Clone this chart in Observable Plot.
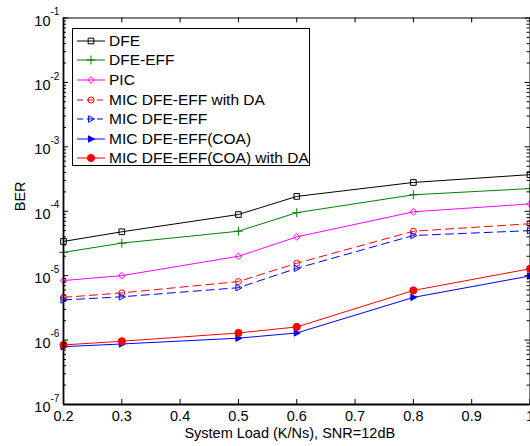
<!DOCTYPE html>
<html>
<head>
<meta charset="utf-8">
<script src="https://cdn.jsdelivr.net/npm/d3@7"></script>
<script src="https://cdn.jsdelivr.net/npm/@observablehq/plot@0.6"></script>
<style>
  body { margin: 0; background: #fff; font-family: "Liberation Sans", Arial, sans-serif; }
  #wrap { position: relative; width: 530px; height: 446px; overflow: hidden; }
  #legend { position: absolute; left: 72px; top: 28px; width: 238px; height: 138px;
            border: 1px solid #000; background: #fff; box-sizing: border-box; padding-top: 2px; }
  .row { display: flex; align-items: center; height: 19.6px; font-size: 15.5px; color: #000; white-space: nowrap; }
  .row svg { margin-left: 4px; margin-right: 4px; flex: none; }
</style>
</head>
<body>
<div id="wrap"><div id="chart"></div><div id="legend"></div></div>
<script>
// ---- data ----
const loads = [0.2, 0.3, 0.5, 0.6, 0.8, 1.0];
const dfe    = [3.4e-5, 4.8e-5, 8.9e-5, 1.7e-4, 2.8e-4, 3.7e-4];
const dfeEff = [2.3e-5, 3.2e-5, 4.9e-5, 9.5e-5, 1.8e-4, 2.25e-4];
const pic    = [8.4e-6, 1.0e-5, 2.0e-5, 4.0e-5, 9.8e-5, 1.3e-4];
const micDa  = [4.6e-6, 5.4e-6, 8.1e-6, 1.56e-5, 4.9e-5, 6.4e-5];
const mic    = [4.2e-6, 4.7e-6, 6.5e-6, 1.3e-5, 4.2e-5, 5.0e-5];
const coa    = [7.9e-7, 8.7e-7, 1.07e-6, 1.29e-6, 4.6e-6, 9.9e-6];
const coaDa  = [8.4e-7, 9.6e-7, 1.29e-6, 1.6e-6, 5.9e-6, 1.28e-5];

const seriesNames = ["DFE", "DFE-EFF", "PIC", "MIC DFE-EFF with DA", "MIC DFE-EFF",
                     "MIC DFE-EFF(COA)", "MIC DFE-EFF(COA) with DA"];
const xTicks = [0.2, 0.3, 0.4, 0.5, 0.6, 0.7, 0.8, 0.9, 1.0];
const yExps = [-7, -6, -5, -4, -3, -2, -1];

// ---- styles ----
const triRight = {
  draw(ctx, size) {
    const r = Math.sqrt(size / Math.PI);
    ctx.moveTo(r * 1.1, 0);
    ctx.lineTo(-r * 0.8, -r * 1.0);
    ctx.lineTo(-r * 0.8, r * 1.0);
    ctx.closePath();
  }
};
const styles = [
  {values: dfe,    color: "#000000", dash: null,  symbol: "square",   fill: "none", r: 3.2},
  {values: dfeEff, color: "#008000", dash: null,  symbol: "plus",     fill: "none", r: 3.0},
  {values: pic,    color: "#ff00ff", dash: null,  symbol: "diamond2", fill: "none", r: 3.0},
  {values: micDa,  color: "#ff0000", dash: "8,5", symbol: "circle",   fill: "none", r: 3.0},
  {values: mic,    color: "#0000ff", dash: "8,5", symbol: triRight,   fill: "none", r: 3.2},
  {values: coa,    color: "#0000ff", dash: null,  symbol: triRight,   fill: "#0000ff", r: 3.2},
  {values: coaDa,  color: "#ff0000", dash: null,  symbol: "circle",   fill: "#ff0000", r: 3.6}
];

const data = [];
seriesNames.forEach((name, i) => {
  styles[i].values.forEach((v, j) => data.push({name, i, x: loads[j], y: v}));
});

const yMajor = yExps.map(e => Math.pow(10, e));
const yMinor = [];
for (let e = -7; e < -1; e++) for (let k = 2; k <= 9; k++) yMinor.push(k * Math.pow(10, e));

const W = 530, H = 446, mL = 63, mR = 0.5, mT = 17.5, mB = 42;
const iW = W - mL - mR, iH = H - mT - mB;
const fnt = "Liberation Sans, Arial, sans-serif";

const marks = [];
seriesNames.forEach((name, i) => {
  const s = styles[i];
  const d = data.filter(r => r.i === i);
  marks.push(Plot.line(d, {x: "x", y: "y", stroke: s.color, strokeWidth: 1, strokeDasharray: s.dash || undefined}));
  marks.push(Plot.dot(d, {x: "x", y: "y", symbol: () => s.symbol, stroke: s.color, fill: s.fill, r: s.r, strokeWidth: 1}));
});
// inward ticks
marks.push(Plot.tickX(xTicks, {x: d => d, insetTop: iH - 5, stroke: "#000", strokeWidth: 1}));
marks.push(Plot.tickX(xTicks, {x: d => d, insetBottom: iH - 5, stroke: "#000", strokeWidth: 1}));
marks.push(Plot.tickY(yMajor, {y: d => d, insetRight: iW - 5, stroke: "#000", strokeWidth: 1}));
marks.push(Plot.tickY(yMajor, {y: d => d, insetLeft: iW - 5, stroke: "#000", strokeWidth: 1}));
marks.push(Plot.tickY(yMinor, {y: d => d, insetRight: iW - 3, stroke: "#000", strokeWidth: 1}));
marks.push(Plot.tickY(yMinor, {y: d => d, insetLeft: iW - 3, stroke: "#000", strokeWidth: 1}));
// frame, thicker left & bottom axes
marks.push(Plot.frame({stroke: "#000", strokeWidth: 1}));
marks.push(Plot.ruleX([0.2], {stroke: "#000", strokeWidth: 1.8}));
marks.push(Plot.ruleY([1e-7], {stroke: "#000", strokeWidth: 2}));
// x tick labels
marks.push(Plot.text(xTicks, {x: d => d, frameAnchor: "bottom", dy: 12, text: d => d === 1 ? "1" : d.toFixed(1),
  fontSize: 14.5, fill: "#000", lineAnchor: "middle"}));
// y tick labels 10^n
marks.push(Plot.text(yExps, {y: d => Math.pow(10, d), frameAnchor: "left", dx: -13, dy: 3, text: () => "10",
  textAnchor: "end", fontSize: 14.5, fill: "#000", lineAnchor: "middle"}));
marks.push(Plot.text(yExps, {y: d => Math.pow(10, d), frameAnchor: "left", dx: -13, dy: -6, text: d => String(d),
  textAnchor: "start", fontSize: 10, fill: "#000", lineAnchor: "middle"}));
// axis titles
marks.push(Plot.text(["System Load (K/Ns), SNR=12dB"], {frameAnchor: "bottom", dy: 29, text: d => d,
  fontSize: 14.5, fill: "#000", lineAnchor: "middle", dx: -7}));
marks.push(Plot.text(["BER"], {frameAnchor: "left", dx: -43, text: d => d, rotate: -90,
  fontSize: 14.5, fill: "#000", lineAnchor: "middle"}));

const chart = Plot.plot({
  width: W, height: H,
  marginLeft: mL, marginRight: mR, marginTop: mT, marginBottom: mB,
  style: {fontFamily: fnt, background: "#fff", overflow: "visible"},
  x: {domain: [0.2, 1.0], axis: null},
  y: {type: "log", domain: [1e-7, 1e-1], axis: null},
  marks
});
document.getElementById("chart").appendChild(chart);

// legend
const legend = document.getElementById("legend");
seriesNames.forEach((name, i) => {
  const s = styles[i];
  const row = document.createElement("div");
  row.className = "row";
  const svg = d3.create("svg").attr("width", 28).attr("height", 14);
  svg.append("line").attr("x1", 0).attr("x2", 28).attr("y1", 7).attr("y2", 7)
    .attr("stroke", s.color).attr("stroke-width", 1).attr("stroke-dasharray", s.dash ? "6,4" : null);
  const symType = {square: d3.symbolSquare, plus: d3.symbolPlus, diamond2: d3.symbolDiamond2, circle: d3.symbolCircle}[s.symbol] || s.symbol;
  svg.append("path").attr("transform", "translate(14,7)")
    .attr("d", d3.symbol(symType, Math.PI * s.r * s.r)())
    .attr("stroke", s.color).attr("fill", s.fill).attr("stroke-width", 1);
  row.appendChild(svg.node());
  const t = document.createElement("span");
  t.textContent = name;
  row.appendChild(t);
  legend.appendChild(row);
});
</script>
</body>
</html>
